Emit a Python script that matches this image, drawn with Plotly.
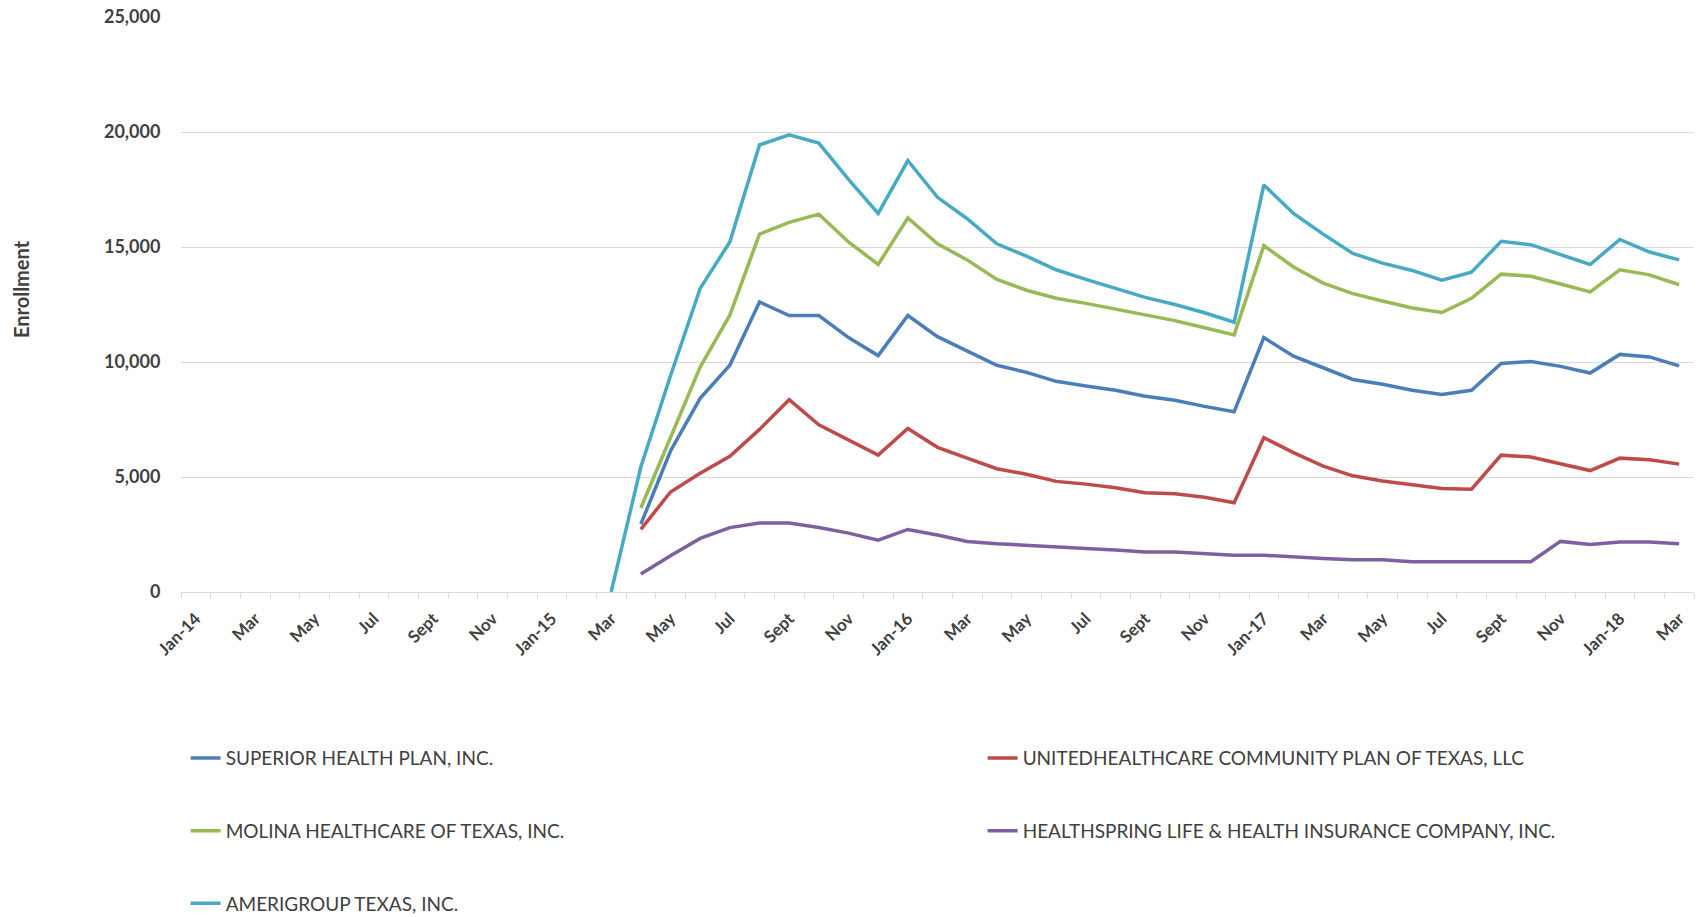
import plotly.graph_objects as go

# Monthly categories Jan-14 .. Mar-18
months = ["Jan-14", "Feb-14", "Mar-14", "Apr-14", "May-14", "Jun-14", "Jul-14", "Aug-14", "Sep-14", "Oct-14", "Nov-14", "Dec-14",
          "Jan-15", "Feb-15", "Mar-15", "Apr-15", "May-15", "Jun-15", "Jul-15", "Aug-15", "Sep-15", "Oct-15", "Nov-15", "Dec-15",
          "Jan-16", "Feb-16", "Mar-16", "Apr-16", "May-16", "Jun-16", "Jul-16", "Aug-16", "Sep-16", "Oct-16", "Nov-16", "Dec-16",
          "Jan-17", "Feb-17", "Mar-17", "Apr-17", "May-17", "Jun-17", "Jul-17", "Aug-17", "Sep-17", "Oct-17", "Nov-17", "Dec-17",
          "Jan-18", "Feb-18", "Mar-18"]
tick_months = ["Jan-14", "Mar-14", "May-14", "Jul-14", "Sep-14", "Nov-14",
               "Jan-15", "Mar-15", "May-15", "Jul-15", "Sep-15", "Nov-15",
               "Jan-16", "Mar-16", "May-16", "Jul-16", "Sep-16", "Nov-16",
               "Jan-17", "Mar-17", "May-17", "Jul-17", "Sep-17", "Nov-17",
               "Jan-18", "Mar-18"]
tick_labels = ["Jan-14", "Mar", "May", "Jul", "Sept", "Nov",
               "Jan-15", "Mar", "May", "Jul", "Sept", "Nov",
               "Jan-16", "Mar", "May", "Jul", "Sept", "Nov",
               "Jan-17", "Mar", "May", "Jul", "Sept", "Nov",
               "Jan-18", "Mar"]

# Series (first month of data given by *_start)
superior_start = "Apr-15"
superior = [2950, 6130, 8420, 9860, 12610, 12020, 12020, 11060, 10280,
            12020, 11100, 10480, 9860, 9550, 9160, 8960, 8770, 8510, 8340, 8070, 7840,
            11060, 10250, 9750, 9240, 9030, 8770, 8590, 8770, 9940, 10020, 9810, 9520,
            10330, 10220, 9830]
united_start = "Apr-15"
united = [2720, 4350, 5160, 5900, 7070, 8360, 7270, 6600, 5950,
          7110, 6290, 5820, 5360, 5120, 4810, 4690, 4530, 4320, 4270, 4120, 3880,
          6710, 6060, 5470, 5050, 4830, 4660, 4500, 4470, 5950, 5870, 5560, 5280,
          5820, 5750, 5560]
molina_start = "Apr-15"
molina = [3650, 6700, 9780, 12035, 15560, 16070, 16430, 15220, 14240,
          16260, 15140, 14440, 13590, 13120, 12770, 12550, 12300, 12040, 11800, 11490, 11180,
          15060, 14130, 13430, 12970, 12650, 12350, 12150, 12770, 13820, 13730, 13390, 13050,
          14010, 13790, 13360]
healthspring_start = "Apr-15"
healthspring = [780, 1580, 2330, 2800, 3000, 3000, 2800, 2560, 2250,
                2720, 2480, 2200, 2100, 2020, 1940, 1890, 1830, 1740, 1740, 1680, 1600,
                1600, 1520, 1460, 1400, 1400, 1320, 1320, 1320, 1320, 1320, 2200, 2070,
                2170, 2170, 2100]
amerigroup_start = "Mar-15"
amerigroup = [0, 5435, 9400, 13200, 15220, 19440, 19880, 19520, 17940, 16460,
              18760, 17160, 16230, 15140, 14600, 14010, 13590, 13200, 12810, 12500, 12140, 11730,
              17700, 16460, 15560, 14720, 14300, 13980, 13560, 13900, 15250, 15100, 14680, 14240,
              15330, 14780, 14440]

names = ["SUPERIOR HEALTH PLAN, INC.", "UNITEDHEALTHCARE COMMUNITY PLAN OF TEXAS, LLC",
         "MOLINA HEALTHCARE OF TEXAS, INC.", "HEALTHSPRING LIFE & HEALTH INSURANCE COMPANY, INC.",
         "AMERIGROUP TEXAS, INC."]
colors = ["#4A7EBB", "#BE4B48", "#98B954", "#7D60A0", "#46AAC5"]
series = [(superior_start, superior), (united_start, united), (molina_start, molina),
          (healthspring_start, healthspring), (amerigroup_start, amerigroup)]
legend_of = ["legend", "legend2", "legend", "legend2", "legend"]

xpos = list(range(len(months)))
FONT = "Lato"
TXT = "#404040"

fig = go.Figure()
for i, ((start, vals), name) in enumerate(zip(series, names)):
    s = months.index(start)
    fig.add_trace(go.Scatter(
        x=xpos[s:s + len(vals)], y=vals, mode="lines", name=name,
        line=dict(color=colors[i], width=3.5), legend=legend_of[i],
        legendgroup=f"g{i}", hoverinfo="x+y+name"))

fig.update_layout(
    width=1703, height=917,
    paper_bgcolor="white", plot_bgcolor="white",
    margin=dict(l=181, r=9, t=17, b=325, autoexpand=False),
    font=dict(family=FONT, color=TXT),
    xaxis=dict(
        range=[-0.5, len(months) - 0.5],
        tickvals=[months.index(m) for m in tick_months], ticktext=tick_labels,
        tickangle=-45, ticks="outside", ticklen=9, tickcolor="rgba(0,0,0,0)",
        tickfont=dict(family=FONT, size=17, color=TXT, weight="bold"),
        showgrid=False, zeroline=False,
        showline=True, linecolor="#d9d9d9", linewidth=1,
        minor=dict(tickvals=[k - 0.5 for k in range(len(months) + 1)], ticks="outside",
                   ticklen=5, tickcolor="#d9d9d9", showgrid=False),
    ),
    yaxis=dict(
        range=[0, 25000], dtick=5000, tickformat=",",
        showgrid=True, gridcolor="#d9d9d9", gridwidth=1, zeroline=False,
        ticks="outside", ticklen=16, tickcolor="rgba(0,0,0,0)",
        tickfont=dict(family=FONT, size=18, color=TXT, weight="bold"),
    ),
    legend=dict(orientation="v", xref="container", yref="container",
                x=0.109, y=0.194, xanchor="left", yanchor="top",
                tracegroupgap=45, font=dict(family=FONT, size=19, color=TXT),
                bgcolor="rgba(0,0,0,0)"),
    legend2=dict(orientation="v", xref="container", yref="container",
                 x=0.577, y=0.194, xanchor="left", yanchor="top",
                 tracegroupgap=45, font=dict(family=FONT, size=19, color=TXT),
                 bgcolor="rgba(0,0,0,0)"),
    annotations=[dict(text="<b>Enrollment</b>", textangle=-90, xref="paper", yref="paper",
                      x=-0.1057, y=0.527, xanchor="center", yanchor="middle", showarrow=False,
                      font=dict(family=FONT, size=20, color=TXT))],
    showlegend=True,
)

fig.write_html("out.html")
